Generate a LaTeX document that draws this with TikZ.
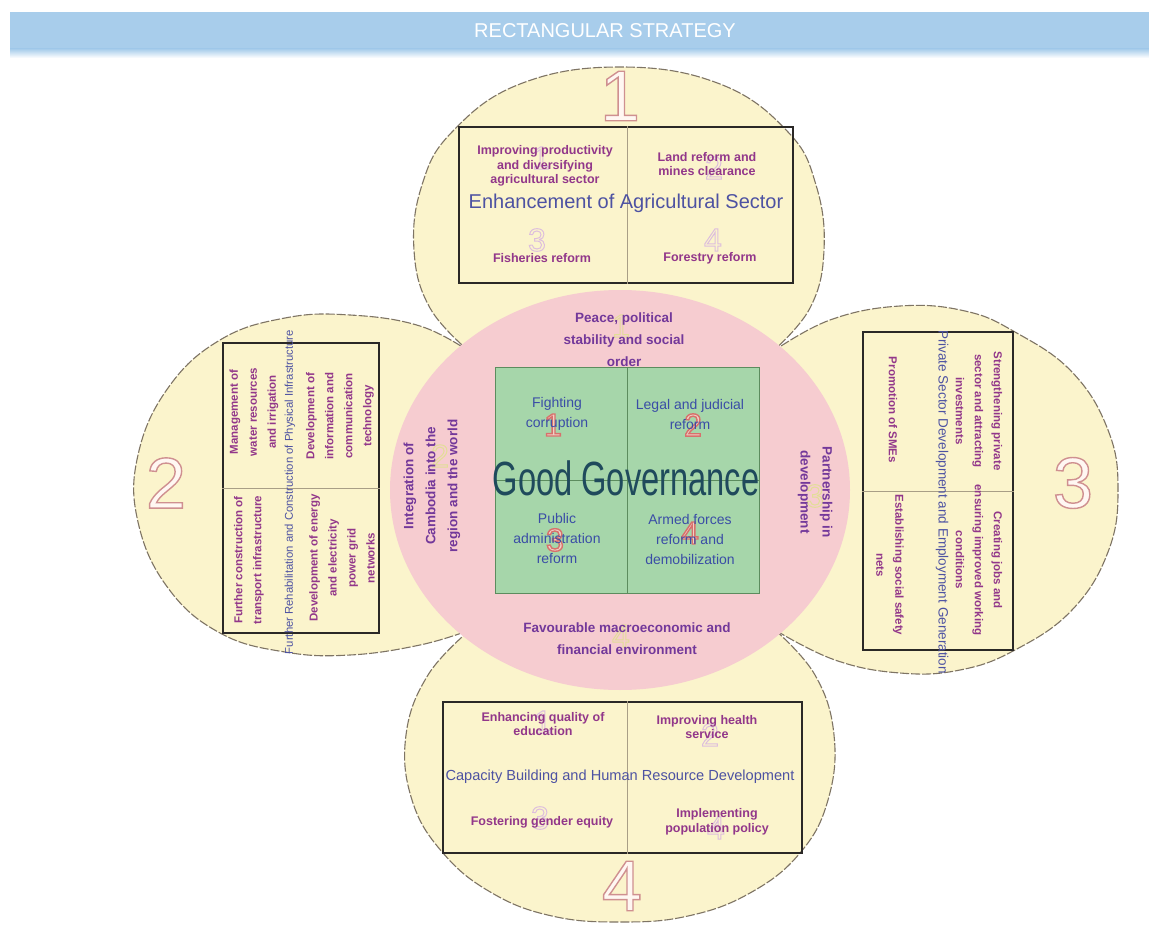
\documentclass[tikz,border=0pt]{standalone}
\usepackage{fontspec}
\setmainfont{Liberation Sans}

\definecolor{barblue}{HTML}{A8CDEB}
\definecolor{petalfill}{HTML}{FBF4CC}
\definecolor{petaledge}{HTML}{7E7464}
\definecolor{pinkfill}{HTML}{F6CCD0}
\definecolor{govgreen}{HTML}{A6D6AA}
\definecolor{govedge}{HTML}{5C8C5E}
\definecolor{govtext}{HTML}{1F4A5C}
\definecolor{framecol}{HTML}{2A2826}
\definecolor{divcol}{HTML}{A89E86}
\definecolor{itemcol}{HTML}{92378A}
\definecolor{headcol}{HTML}{4D52A2}
\definecolor{ringcol}{HTML}{73389A}
\definecolor{innercol}{HTML}{3A4DA6}
\definecolor{numedge}{HTML}{CF9090}
\definecolor{ghostlilac}{HTML}{DDBEDD}
\definecolor{ghostred}{HTML}{D8706C}
\definecolor{ghostyellow}{HTML}{E2DE96}

% hollow lettering drawn with the PDF text render modes
% #1 outline colour, #2 fill as "r g b", #3 text
\newcommand{\hollowtext}[3]{{\color{#1}%
  \special{pdf:literal direct #2 rg 2 Tr 1.4 w}#3%
  \special{pdf:literal direct 0 Tr}}}
% outline only: #1 colour, #2 stroke width, #3 text
\newcommand{\outlinetext}[3]{{\color{#1}%
  \special{pdf:literal direct 1 Tr #2 w}#3%
  \special{pdf:literal direct 0 Tr}}}

\tikzset{
  petalfillstyle/.style={fill=petalfill},
  petaloutline/.style={draw=petaledge, line width=1.1pt, dash pattern=on 9pt off 2pt},
  frame/.style={draw=framecol, line width=2pt, inner sep=0pt},
  divider/.style={draw=divcol, line width=0.7pt},
  item/.style={text=itemcol, align=center, inner sep=0pt,
    font=\bfseries\fontsize{12.5}{14.5}\selectfont},
  sideitem/.style={text=itemcol, align=center, inner sep=0pt,
    font=\bfseries\fontsize{11.5}{19}\selectfont},
  ringtext/.style={text=ringcol, align=center, inner sep=0pt,
    font=\bfseries\fontsize{13.5}{22}\selectfont},
  inner/.style={text=innercol, align=center, inner sep=0pt,
    font=\fontsize{14}{20}\selectfont},
  head/.style={text=headcol, inner sep=0pt},
  bignum/.style={inner sep=0pt, font=\fontsize{72}{72}\selectfont},
  ghost/.style={inner sep=0pt, font=\fontsize{32}{32}\selectfont},
}

\begin{document}
\begin{tikzpicture}[x=1pt,y=-1pt]
\useasboundingbox (0,0) rectangle (1149,931);
\fill[white] (0,0) rectangle (1149,931);

% heading band
\fill[barblue] (10,12) rectangle (1149,49);
\shade[top color=barblue, bottom color=white] (10,49) rectangle (1149,58);
\node (heading) at (605,31) [text=white, inner sep=0pt,
  font=\fontsize{20}{20}\selectfont] {RECTANGULAR STRATEGY};

% outer rims of the four petals; both ends dip under the ring
\def\toppetal{(470,352) (430,308) (414,250) (422,185) (452,132) (520,84)
  (620,67) (720,84) (788,132) (816,185) (824,250) (810,308) (772,352)}
\def\leftpetal{(470,352) (420,326) (350,315) (285,318) (220,340) (168,388)
  (138,455) (138,522) (168,588) (220,633) (285,652) (350,655) (420,645) (470,630)}
\def\rightpetal{(772,352) (830,320) (900,306) (965,311) (1015,332) (1072,372)
  (1108,430) (1118,490) (1108,552) (1072,610) (1015,650) (960,670) (900,673)
  (835,660) (775,630)}
\def\bottompetal{(470,630) (428,675) (406,735) (412,800) (443,853) (492,893)
  (552,916) (620,922) (688,916) (750,893) (800,853) (828,800) (834,735)
  (815,675) (775,630)}
\coordinate (hub) at (620,490);
\foreach \petal in {\toppetal,\leftpetal,\rightpetal,\bottompetal}
  \fill[petalfillstyle] plot[smooth, tension=0.7] coordinates {\petal} -- (hub) -- cycle;
\foreach \petal in {\toppetal,\leftpetal,\rightpetal,\bottompetal}
  \path[petaloutline] plot[smooth, tension=0.7] coordinates {\petal};

% central ring
\fill[pinkfill] (hub) ellipse [x radius=230, y radius=200];

% large petal numbers
\node[bignum] (num1) at (620,96) {\hollowtext{numedge}{1 0.97 0.95}{1}};
\node[bignum] (num2) at (166,483) {\hollowtext{numedge}{1 0.97 0.95}{2}};
\node[bignum] (num3) at (1073,483) {\hollowtext{numedge}{1 0.97 0.95}{3}};
\node[bignum] (num4) at (622,886) {\hollowtext{numedge}{1 0.97 0.95}{4}};

% Good Governance block
\node[draw=govedge, fill=govgreen, line width=1pt, inner sep=0pt,
  minimum width=264pt, minimum height=226pt] (gov) at (627,480) {};
\draw[govedge, line width=0.8pt] (gov.north) -- (gov.south);
\draw[govedge, line width=0.6pt] (gov.west) -- (gov.east);

% ghost numbers in the ring and in the green block
\node[ghost] (rg1) at (621,326) {\outlinetext{ghostyellow}{1}{1}};
\node[ghost] (rg2) at (440,456) {\outlinetext{ghostyellow}{1}{2}};
\node[ghost] (rg3) at (815,496) {\outlinetext{ghostyellow}{1}{3}};
\node[ghost] (rg4) at (621,636) {\outlinetext{ghostyellow}{1}{4}};
\node[ghost] (gg1) at (553,425) {\hollowtext{ghostred}{0.94 0.82 0.77}{1}};
\node[ghost] (gg2) at (693,425) {\hollowtext{ghostred}{0.94 0.82 0.77}{2}};
\node[ghost] (gg3) at (555,540) {\hollowtext{ghostred}{0.94 0.82 0.77}{3}};
\node[ghost] (gg4) at (690,533) {\hollowtext{ghostred}{0.94 0.82 0.77}{4}};

% framed boxes of the four petals
\node[frame, minimum width=334pt, minimum height=156pt] (box1) at (626,205) {};
\node[frame, minimum width=156pt, minimum height=290pt] (box2) at (301,488) {};
\node[frame, minimum width=150pt, minimum height=318pt] (box3) at (938,491) {};
\node[frame, minimum width=359pt, minimum height=151pt] (box4) at (622.5,777.5) {};
\draw[divider] (box1.north -| gov.center) -- (box1.south -| gov.center);
\draw[divider] (box2.west) -- (box2.east);
\draw[divider] (box3.west) -- (box3.east);
\draw[divider] (box4.north -| gov.center) -- (box4.south -| gov.center);

% ghost numbers in the petal boxes
\node[ghost] (pg11) at (541,158) {\outlinetext{ghostlilac}{1}{1}};
\node[ghost] (pg12) at (714,168) {\outlinetext{ghostlilac}{1}{2}};
\node[ghost] (pg13) at (537,240) {\outlinetext{ghostlilac}{1}{3}};
\node[ghost] (pg14) at (713,240) {\outlinetext{ghostlilac}{1}{4}};
\node[ghost] (pg41) at (543,722) {\outlinetext{ghostlilac}{1}{1}};
\node[ghost] (pg42) at (710,735) {\outlinetext{ghostlilac}{1}{2}};
\node[ghost] (pg43) at (540,818) {\outlinetext{ghostlilac}{1}{3}};
\node[ghost] (pg44) at (716,828) {\outlinetext{ghostlilac}{1}{4}};

% petal 1
\node[item] (a1) at (545,166) {Improving productivity\\and diversifying\\agricultural sector};
\node[item] (a2) at (707,164) {Land reform and\\mines clearance};
\node[head, font=\fontsize{20}{20}\selectfont] (t1) at (626,203)
  {Enhancement of Agricultural Sector};
\node[item] (a3) at (542,258) {Fisheries reform};
\node[item] (a4) at (710,258) {Forestry reform};

% petal 2
\node[sideitem, rotate=90] (b1) at (254,412) {Management of\\water resources\\and irrigation};
\node[sideitem, rotate=90] (b2) at (340,416) {Development of\\information and\\communication\\technology};
\node[sideitem, rotate=90] (b3) at (249,560) {Further construction of\\transport infrastructure};
\node[sideitem, rotate=90] (b4) at (342,558) {Development of energy\\and electricity\\power grid\\networks};
\node[head, rotate=90, font=\fontsize{11.3}{11.3}\selectfont] (t2) at (290,492)
  {Further Rehabilitation and Construction of Physical Infrastructure};

% petal 3
\node[sideitem, rotate=-90] (c1) at (979,411) {Strengthening private\\sector and attracting\\investments};
\node[sideitem, rotate=-90] (c2) at (893,410) {Promotion of SMEs};
\node[sideitem, rotate=-90] (c3) at (890,565) {Establishing social safety\\nets};
\node[sideitem, rotate=-90] (c4) at (979,560) {Creating jobs and\\ensuring improved working\\conditions};
\node[head, rotate=-90, font=\fontsize{13.5}{13.5}\selectfont] (t3) at (942,502)
  {Private Sector Development and Employment Generation};

% petal 4
\node[item] (d1) at (543,724) {Enhancing quality of\\education};
\node[item] (d2) at (707,727) {Improving health\\service};
\node[head, font=\fontsize{14.6}{14.6}\selectfont] (t4) at (620,777)
  {Capacity Building and Human Resource Development};
\node[item] (d3) at (542,822) {Fostering gender equity};
\node[item] (d4) at (717,822) {Implementing\\population policy};

% ring texts
\node[ringtext] (r1) at (624,340) {Peace, political\\stability and social\\order};
\node[ringtext] (r4) at (627,639) {Favourable macroeconomic and\\financial environment};
\node[ringtext, rotate=90] (r2) at (432,486) {Integration of\\Cambodia into the\\region and the world};
\node[ringtext, rotate=-90] (r3) at (815,492) {Partnership in\\development};

% Good Governance quadrants
\node[inner] (g1) at (557,414) {Fighting\\corruption};
\node[inner] (g2) at (690,414) {Legal and judicial\\reform};
\node[inner] (g3) at (557,538) {Public\\administration\\reform};
\node[inner] (g4) at (690,539) {Armed forces\\reform and\\demobilization};
\node[text=govtext, inner sep=0pt, font=\fontsize{48}{48}\selectfont] (ggtitle)
  at (626,478) {\scalebox{0.68}[1]{Good Governance}};
\end{tikzpicture}
\end{document}
